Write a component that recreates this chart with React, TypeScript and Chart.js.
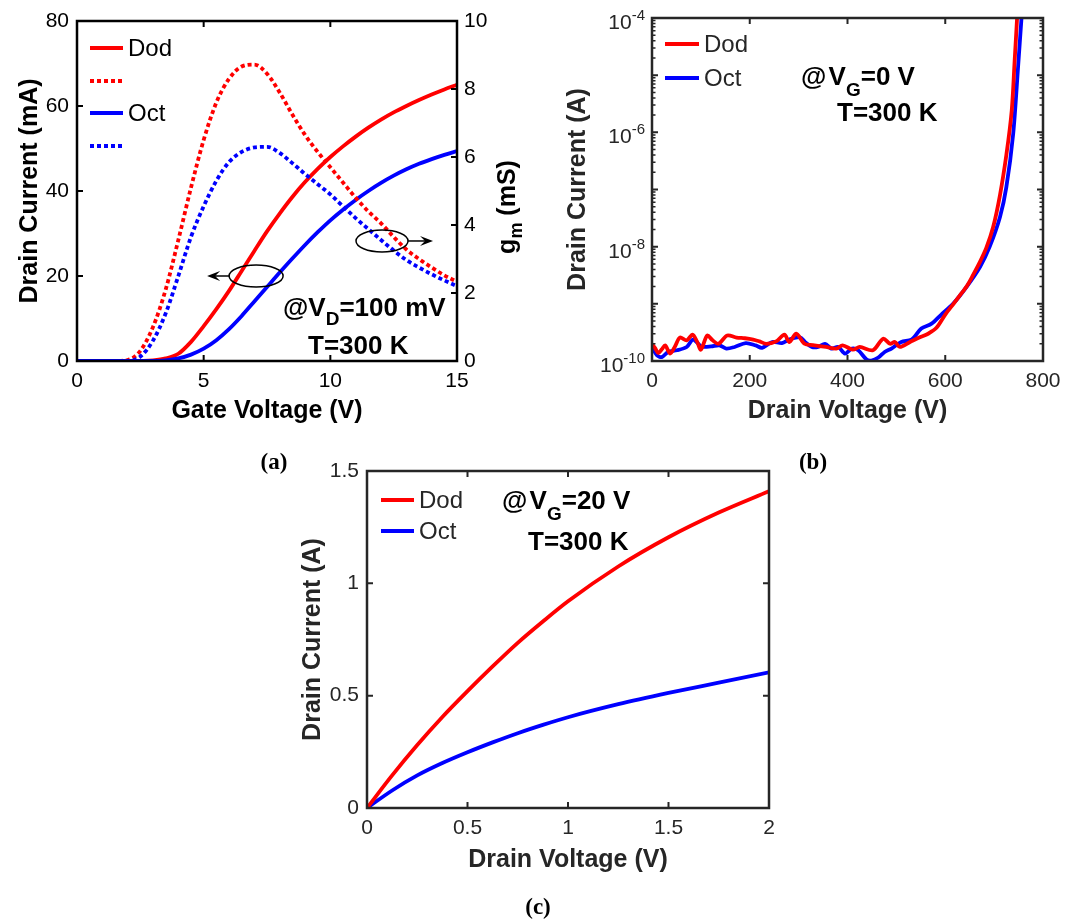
import React, { useEffect, useRef } from 'react';
import { Chart, registerables } from 'chart.js';

Chart.register(...registerables);

const FONT = '"Liberation Sans", Arial, Helvetica, sans-serif';
const SERIF = '"Liberation Serif", "Times New Roman", serif';
const RED = '#ff0000';
const BLUE = '#0000ff';
const DARK = '#262626';

// ---------------- (a) transfer characteristics ----------------
const gateVoltage = [0, 0.5, 1, 1.5, 2, 2.5, 3, 3.5, 4, 4.5, 5, 5.5, 6, 6.5, 7, 7.5, 8, 8.5, 9, 9.5, 10, 10.5, 11, 11.5, 12, 12.5, 13, 13.5, 14, 14.5, 15];
const dodDrainCurrentA = [0, 0, 0, 0, 0, 0.03, 0.15, 0.6, 1.7, 4.5, 8.2, 12.2, 16.5, 21.2, 25.9, 30.5, 34.7, 38.6, 42.1, 45.2, 48.0, 50.5, 52.8, 54.9, 56.8, 58.5, 60.0, 61.4, 62.7, 63.9, 65.0];
const octDrainCurrentA = [0, 0, 0, 0, 0, 0, 0, 0.15, 0.6, 1.5, 2.9, 4.9, 7.5, 10.6, 14.0, 17.4, 20.8, 24.1, 27.3, 30.3, 33.1, 35.6, 37.9, 40.0, 41.9, 43.6, 45.1, 46.4, 47.5, 48.5, 49.4];
const dodTransconductance = [0, 0, 0, 0, 0.03, 0.3, 1.0, 2.1, 3.56, 5.1, 6.5, 7.6, 8.3, 8.66, 8.72, 8.45, 7.9, 7.25, 6.65, 6.15, 5.7, 5.25, 4.8, 4.4, 4.05, 3.65, 3.28, 3.0, 2.75, 2.52, 2.33];
const octTransconductance = [0, 0, 0, 0, 0, 0.13, 0.6, 1.4, 2.5, 3.65, 4.55, 5.3, 5.85, 6.15, 6.28, 6.3, 6.12, 5.82, 5.5, 5.2, 4.9, 4.55, 4.2, 3.88, 3.56, 3.25, 2.97, 2.75, 2.55, 2.37, 2.2];
const aGateTicks = [0, 5, 10, 15];
const aCurrentTicks = [0, 20, 40, 60, 80];
const aGmTicks = [0, 2, 4, 6, 8, 10];

// ---------------- (b) off-state leakage ----------------
const dodBlockingVoltage = [0, 6, 13, 20, 27, 37, 47, 57, 71, 83, 92, 100, 113, 124, 136, 154, 173, 190, 207, 220, 234, 254, 271, 281, 295, 312, 329, 356, 377, 390, 411, 425, 452, 473, 487, 497, 507, 528, 548, 565, 582, 600, 615, 630, 645, 657, 670, 684, 698, 712, 725, 736, 742, 747];
const dodLeakageCurrent = [2.0e-10, 1.7e-10, 1.38e-10, 1.6e-10, 1.88e-10, 1.35e-10, 1.8e-10, 2.57e-10, 2.3e-10, 2.9e-10, 2.2e-10, 1.58e-10, 2.8e-10, 2.3e-10, 2.0e-10, 2.8e-10, 2.57e-10, 2.5e-10, 2.37e-10, 2.2e-10, 2.0e-10, 2.2e-10, 2.9e-10, 2.15e-10, 3.0e-10, 2.0e-10, 1.9e-10, 1.76e-10, 1.65e-10, 1.88e-10, 1.58e-10, 1.76e-10, 1.54e-10, 2.46e-10, 2.0e-10, 2.15e-10, 1.76e-10, 2.15e-10, 2.6e-10, 3.0e-10, 3.8e-10, 6.5e-10, 9.5e-10, 1.4e-9, 2.1e-9, 3.2e-9, 5.2e-9, 9.5e-9, 2.2e-8, 8e-8, 4e-7, 2.4e-6, 1.8e-5, 1e-4];
const octBlockingVoltage = [0, 10, 20, 33, 51, 71, 84, 101, 121, 138, 152, 169, 192, 212, 225, 246, 266, 281, 303, 313, 327, 340, 354, 367, 381, 395, 409, 422, 439, 449, 463, 476, 490, 510, 531, 551, 572, 592, 616, 644, 671, 691, 712, 725, 739, 749, 756];
const octLeakageCurrent = [1.76e-10, 1.26e-10, 1.17e-10, 1.44e-10, 1.54e-10, 1.76e-10, 2.37e-10, 1.8e-10, 1.8e-10, 1.88e-10, 1.65e-10, 1.76e-10, 2.06e-10, 1.88e-10, 1.7e-10, 2.15e-10, 2.06e-10, 2.37e-10, 2.6e-10, 2.15e-10, 1.76e-10, 1.76e-10, 2.0e-10, 1.65e-10, 1.76e-10, 1.35e-10, 1.65e-10, 1.54e-10, 1.06e-10, 1.02e-10, 1.15e-10, 1.44e-10, 1.65e-10, 2.15e-10, 2.37e-10, 3.7e-10, 4.5e-10, 6.5e-10, 1.0e-9, 2.0e-9, 4.4e-9, 1.0e-8, 3.3e-8, 1.1e-7, 9.4e-7, 1.4e-5, 1e-4];
const bVoltageTicks = [0, 200, 400, 600, 800];
const bCurrentDecades = [-10, -8, -6, -4];
const bAllDecades = [-10, -9, -8, -7, -6, -5, -4];

// ---------------- (c) output characteristics ----------------
const outputDrainVoltage = [0, 0.125, 0.25, 0.375, 0.5, 0.625, 0.75, 0.875, 1, 1.25, 1.5, 1.75, 2];
const dodOutputCurrent = [0, 0.145, 0.28, 0.405, 0.52, 0.63, 0.735, 0.83, 0.92, 1.075, 1.205, 1.315, 1.41];
const octOutputCurrent = [0, 0.078, 0.145, 0.2, 0.248, 0.292, 0.333, 0.37, 0.404, 0.462, 0.512, 0.558, 0.604];
const cVoltageTicks = [0, 0.5, 1, 1.5, 2];
const cCurrentTicks = [0, 0.5, 1, 1.5];

// ---------------- helpers ----------------
const pts = (xs: number[], ys: number[]) => xs.map((x, i) => ({ x, y: ys[i] }));
const fixedTicks = (vals: number[]) => (scale: any) => {
  scale.ticks = vals.map((value) => ({ value }));
};

function lineDs(label: string, xs: number[], ys: number[], color: string, extra: any = {}) {
  return {
    label,
    data: pts(xs, ys),
    borderColor: color,
    backgroundColor: color,
    borderWidth: 3.8,
    pointRadius: 0,
    fill: false,
    cubicInterpolationMode: 'monotone',
    borderCapStyle: 'butt',
    ...extra,
  };
}

const axisTitle = (text: string, color: string) => ({
  display: true,
  text,
  color,
  font: { family: FONT, size: 25, weight: 'bold' },
  padding: 0,
});

const tickOpts = (color: string, padding: number) => ({
  color,
  padding,
  font: { family: FONT, size: 21 },
  autoSkip: false,
  maxRotation: 0,
  callback: (v: any) => String(v),
});

const noGrid = { display: false, drawTicks: false, tickLength: 0 };

function strokeTicks(ctx: any, ca: any, scale: any, values: number[], side: string, len: number) {
  ctx.beginPath();
  for (const v of values) {
    const p = scale.getPixelForValue(v);
    if (side === 'bottom') { ctx.moveTo(p, ca.bottom); ctx.lineTo(p, ca.bottom - len); }
    else if (side === 'top') { ctx.moveTo(p, ca.top); ctx.lineTo(p, ca.top + len); }
    else if (side === 'left') { ctx.moveTo(ca.left, p); ctx.lineTo(ca.left + len, p); }
    else { ctx.moveTo(ca.right, p); ctx.lineTo(ca.right - len, p); }
  }
  ctx.stroke();
}

function frame(ctx: any, ca: any, color: string) {
  ctx.strokeStyle = color;
  ctx.lineWidth = 2.5;
  ctx.strokeRect(ca.left, ca.top, ca.right - ca.left, ca.bottom - ca.top);
  ctx.lineWidth = 2;
}

type Seg = [string, number, number?];
function richText(ctx: any, x: number, y: number, segs: Seg[], color: string, weight = 'bold') {
  ctx.fillStyle = color;
  ctx.textAlign = 'left';
  ctx.textBaseline = 'alphabetic';
  let cx = x;
  for (const [t, size, dy] of segs) {
    ctx.font = `${weight} ${size}px ${FONT}`;
    ctx.fillText(t, cx, y + (dy || 0));
    cx += ctx.measureText(t).width;
  }
  return cx - x;
}
function measureRich(ctx: any, segs: Seg[], weight = 'bold') {
  let w = 0;
  for (const [t, size] of segs) {
    ctx.font = `${weight} ${size}px ${FONT}`;
    w += ctx.measureText(t).width;
  }
  return w;
}

function legendItem(ctx: any, ds: any, x1: number, x2: number, y: number, text: string, color: string) {
  ctx.save();
  ctx.strokeStyle = ds.borderColor;
  ctx.lineWidth = 4;
  ctx.lineCap = 'butt';
  ctx.setLineDash(ds.borderDash || []);
  ctx.beginPath();
  ctx.moveTo(x1, y);
  ctx.lineTo(x2, y);
  ctx.stroke();
  ctx.setLineDash([]);
  if (text) {
    ctx.fillStyle = color;
    ctx.font = `24px ${FONT}`;
    ctx.textAlign = 'left';
    ctx.textBaseline = 'middle';
    ctx.fillText(text, x2 + 5, y + 1);
  }
  ctx.restore();
}

function arrow(ctx: any, x0: number, y: number, x1: number) {
  const dir = Math.sign(x1 - x0);
  ctx.beginPath();
  ctx.moveTo(x0, y);
  ctx.lineTo(x1 - dir * 6, y);
  ctx.stroke();
  ctx.beginPath();
  ctx.moveTo(x1, y);
  ctx.lineTo(x1 - dir * 13, y - 5);
  ctx.lineTo(x1 - dir * 8, y);
  ctx.lineTo(x1 - dir * 13, y + 5);
  ctx.closePath();
  ctx.fill();
}

// ---------------- panel (a) ----------------
const panelAPlugin = {
  id: 'panelA',
  afterDraw(chart: any) {
    const { ctx, chartArea: ca } = chart;
    const { x, y, y2 } = chart.scales;
    const ds = chart.data.datasets;
    ctx.save();
    frame(ctx, ca, '#000');
    strokeTicks(ctx, ca, x, aGateTicks, 'bottom', 6);
    strokeTicks(ctx, ca, x, aGateTicks, 'top', 6);
    strokeTicks(ctx, ca, y, aCurrentTicks, 'left', 6);
    strokeTicks(ctx, ca, y2, aGmTicks, 'right', 6);

    legendItem(ctx, ds[0], 90, 123, 48, 'Dod', '#000');
    legendItem(ctx, ds[2], 90, 123, 81, '', '#000');
    legendItem(ctx, ds[1], 90, 123, 113, 'Oct', '#000');
    legendItem(ctx, ds[3], 90, 123, 146, '', '#000');

    ctx.strokeStyle = '#000';
    ctx.fillStyle = '#000';
    ctx.lineWidth = 1.5;
    const e1x = x.getPixelForValue(7.07);
    const e1y = y.getPixelForValue(20);
    ctx.beginPath();
    ctx.ellipse(e1x, e1y, 27, 11, 0, 0, Math.PI * 2);
    ctx.stroke();
    arrow(ctx, e1x - 27, e1y, e1x - 49);
    const e2x = x.getPixelForValue(12.04);
    const e2y = y2.getPixelForValue(3.53);
    ctx.beginPath();
    ctx.ellipse(e2x, e2y, 26, 11, 0, 0, Math.PI * 2);
    ctx.stroke();
    arrow(ctx, e2x + 26, e2y, e2x + 51);

    richText(ctx, 283, 316, [['@V', 26], ['D', 19, 9], ['=100 mV', 26]], '#000');
    richText(ctx, 308, 354, [['T=300 K', 26]], '#000');

    // right axis title  g_m (mS), reading bottom to top
    const segs: Seg[] = [['g', 25], ['m', 18, 7], [' (mS)', 25]];
    const w = measureRich(ctx, segs);
    ctx.translate(506, 207);
    ctx.rotate(-Math.PI / 2);
    richText(ctx, -w / 2, 9, segs, '#000');
    ctx.restore();
  },
};

function configA(): any {
  return {
    type: 'line',
    data: {
      datasets: [
        lineDs('Dod', gateVoltage, dodDrainCurrentA, RED, { yAxisID: 'y', order: 4 }),
        lineDs('Oct', gateVoltage, octDrainCurrentA, BLUE, { yAxisID: 'y', order: 3 }),
        lineDs('Dod gm', gateVoltage, dodTransconductance, RED, { yAxisID: 'y2', order: 2, borderDash: [4, 3] }),
        lineDs('Oct gm', gateVoltage, octTransconductance, BLUE, { yAxisID: 'y2', order: 1, borderDash: [4, 3] }),
      ],
    },
    options: {
      animation: false,
      responsive: false,
      devicePixelRatio: 1,
      events: [],
      layout: { padding: { left: 15, right: 548, top: 21, bottom: 494 } },
      plugins: { legend: { display: false }, tooltip: { enabled: false } },
      scales: {
        x: {
          type: 'linear', min: 0, max: 15,
          afterBuildTicks: fixedTicks(aGateTicks),
          ticks: tickOpts('#000', 8),
          grid: noGrid, border: { display: false },
          title: axisTitle('Gate Voltage (V)', '#000'),
          afterFit: (s: any) => { s.height = 65; },
        },
        y: {
          type: 'linear', position: 'left', min: 0, max: 80,
          afterBuildTicks: fixedTicks(aCurrentTicks),
          ticks: tickOpts('#000', 8),
          grid: noGrid, border: { display: false },
          title: axisTitle('Drain Current (mA)', '#000'),
          afterFit: (s: any) => { s.width = 62; },
        },
        y2: {
          type: 'linear', position: 'right', min: 0, max: 10,
          afterBuildTicks: fixedTicks(aGmTicks),
          ticks: tickOpts('#000', 7),
          grid: noGrid, border: { display: false },
          title: { display: false },
          afterFit: (s: any) => { s.width = 70; },
        },
      },
    },
    plugins: [panelAPlugin],
  };
}

// ---------------- panel (b) ----------------
const panelBPlugin = {
  id: 'panelB',
  afterDraw(chart: any) {
    const { ctx, chartArea: ca } = chart;
    const { x, y } = chart.scales;
    const ds = chart.data.datasets;
    ctx.save();
    frame(ctx, ca, DARK);
    strokeTicks(ctx, ca, x, bVoltageTicks, 'bottom', 6);
    strokeTicks(ctx, ca, x, bVoltageTicks, 'top', 6);
    const majors = bAllDecades.map((e) => Math.pow(10, e));
    const minors: number[] = [];
    for (const e of bAllDecades.slice(0, -1)) for (let k = 2; k <= 9; k++) minors.push(k * Math.pow(10, e));
    strokeTicks(ctx, ca, y, majors, 'left', 6);
    strokeTicks(ctx, ca, y, majors, 'right', 6);
    ctx.lineWidth = 1.5;
    strokeTicks(ctx, ca, y, minors, 'left', 3.5);
    strokeTicks(ctx, ca, y, minors, 'right', 3.5);

    // log tick labels 10^n
    for (const e of bCurrentDecades) {
      const py = y.getPixelForValue(Math.pow(10, e));
      const segs: Seg[] = [['10', 21], [String(e), 15, -9]];
      const w = measureRich(ctx, segs, 'normal');
      richText(ctx, ca.left - 7 - w, py + 11, segs, DARK, 'normal');
    }

    legendItem(ctx, ds[0], 665, 699, 44, 'Dod', DARK);
    legendItem(ctx, ds[1], 665, 699, 78, 'Oct', DARK);

    richText(ctx, 801, 85, [['@', 26], [' ', 8], ['V', 26], ['G', 19, 11], ['=0 V', 26]], '#000');
    richText(ctx, 837, 121, [['T=300 K', 26]], '#000');
    ctx.restore();
  },
};

function configB(): any {
  return {
    type: 'line',
    data: {
      datasets: [
        lineDs('Dod', dodBlockingVoltage, dodLeakageCurrent, RED, { order: 1, cubicInterpolationMode: 'default', tension: 0.3 }),
        lineDs('Oct', octBlockingVoltage, octLeakageCurrent, BLUE, { order: 2, cubicInterpolationMode: 'default', tension: 0.3 }),
      ],
    },
    options: {
      animation: false,
      responsive: false,
      devicePixelRatio: 1,
      events: [],
      layout: { padding: { left: 563, right: 32, top: 18, bottom: 494 } },
      plugins: { legend: { display: false }, tooltip: { enabled: false } },
      scales: {
        x: {
          type: 'linear', min: 0, max: 800,
          afterBuildTicks: fixedTicks(bVoltageTicks),
          ticks: tickOpts(DARK, 8),
          grid: noGrid, border: { display: false },
          title: axisTitle('Drain Voltage (V)', DARK),
          afterFit: (s: any) => { s.height = 65; },
        },
        y: {
          type: 'logarithmic', min: 1e-10, max: 1e-4,
          ticks: { display: false },
          grid: noGrid, border: { display: false },
          title: axisTitle('Drain Current (A)', DARK),
          afterFit: (s: any) => { s.width = 89; },
        },
      },
    },
    plugins: [panelBPlugin],
  };
}

// ---------------- panel (c) ----------------
const panelCPlugin = {
  id: 'panelC',
  afterDraw(chart: any) {
    const { ctx, chartArea: ca } = chart;
    const { x, y } = chart.scales;
    const ds = chart.data.datasets;
    ctx.save();
    frame(ctx, ca, DARK);
    strokeTicks(ctx, ca, x, cVoltageTicks, 'bottom', 6);
    strokeTicks(ctx, ca, x, cVoltageTicks, 'top', 6);
    strokeTicks(ctx, ca, y, cCurrentTicks, 'left', 6);
    strokeTicks(ctx, ca, y, cCurrentTicks, 'right', 6);

    legendItem(ctx, ds[0], 381, 414, 500, 'Dod', DARK);
    legendItem(ctx, ds[1], 381, 414, 531, 'Oct', DARK);

    richText(ctx, 502, 509, [['@', 26], [' ', 8], ['V', 26], ['G', 19, 11], ['=20 V', 26]], '#000');
    richText(ctx, 528, 550, [['T=300 K', 26]], '#000');
    ctx.restore();
  },
};

function configC(): any {
  return {
    type: 'line',
    data: {
      datasets: [
        lineDs('Dod', outputDrainVoltage, dodOutputCurrent, RED, { order: 1 }),
        lineDs('Oct', outputDrainVoltage, octOutputCurrent, BLUE, { order: 2 }),
      ],
    },
    options: {
      animation: false,
      responsive: false,
      devicePixelRatio: 1,
      events: [],
      layout: { padding: { left: 298, right: 306, top: 471, bottom: 45 } },
      plugins: { legend: { display: false }, tooltip: { enabled: false } },
      scales: {
        x: {
          type: 'linear', min: 0, max: 2,
          afterBuildTicks: fixedTicks(cVoltageTicks),
          ticks: tickOpts(DARK, 8),
          grid: noGrid, border: { display: false },
          title: axisTitle('Drain Voltage (V)', DARK),
          afterFit: (s: any) => { s.height = 67; },
        },
        y: {
          type: 'linear', min: 0, max: 1.5,
          afterBuildTicks: fixedTicks(cCurrentTicks),
          ticks: tickOpts(DARK, 8),
          grid: noGrid, border: { display: false },
          title: axisTitle('Drain Current (A)', DARK),
          afterFit: (s: any) => { s.width = 69; },
        },
      },
    },
    plugins: [panelCPlugin],
  };
}

const canvasStyle: React.CSSProperties = { position: 'absolute', left: 0, top: 0, width: 1075, height: 920 };
const panelLabel = (cx: number, cy: number): React.CSSProperties => ({
  position: 'absolute',
  left: cx,
  top: cy,
  transform: 'translate(-50%, -50%)',
  fontFamily: SERIF,
  fontWeight: 'bold',
  fontSize: 23,
  lineHeight: 1,
  color: '#000',
  whiteSpace: 'nowrap',
});

export default function App() {
  const refA = useRef<HTMLCanvasElement>(null);
  const refB = useRef<HTMLCanvasElement>(null);
  const refC = useRef<HTMLCanvasElement>(null);

  useEffect(() => {
    const charts = [
      new Chart(refA.current as HTMLCanvasElement, configA()),
      new Chart(refB.current as HTMLCanvasElement, configB()),
      new Chart(refC.current as HTMLCanvasElement, configC()),
    ];
    return () => charts.forEach((c) => c.destroy());
  }, []);

  return (
    <div style={{ position: 'absolute', left: 0, top: 0, width: 1075, height: 920, background: '#fff', overflow: 'hidden' }}>
      <canvas ref={refA} width={1075} height={920} style={canvasStyle} />
      <canvas ref={refB} width={1075} height={920} style={canvasStyle} />
      <canvas ref={refC} width={1075} height={920} style={canvasStyle} />
      <div style={panelLabel(274, 461)}>(a)</div>
      <div style={panelLabel(813, 461)}>(b)</div>
      <div style={panelLabel(538, 906)}>(c)</div>
    </div>
  );
}
